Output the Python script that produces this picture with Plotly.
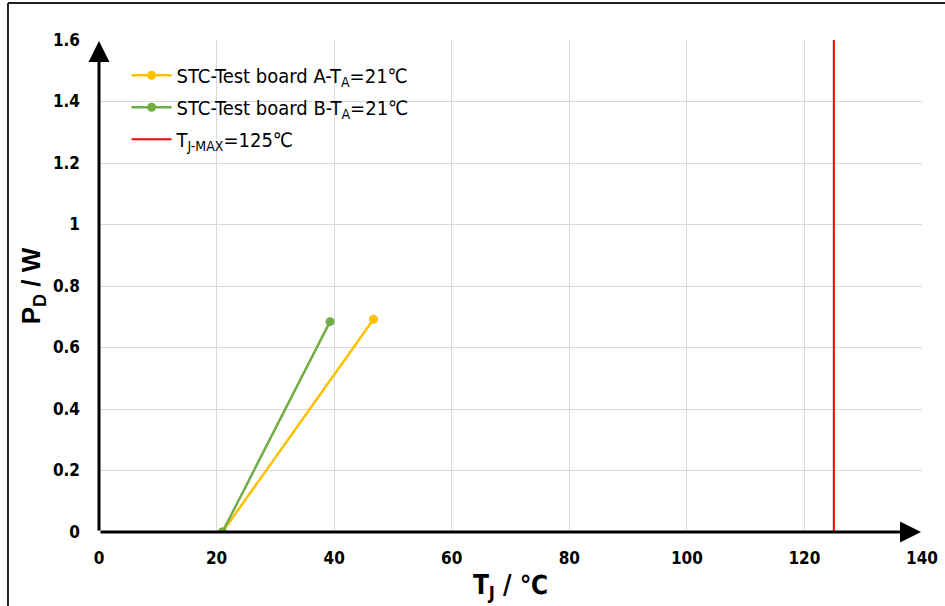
import plotly.graph_objects as go

# Data
board_a_tj = [21, 46.7]
board_a_pd = [0, 0.692]
board_b_tj = [21, 39.3]
board_b_pd = [0, 0.684]
tj_max = 125
x_ticks = [0, 20, 40, 60, 80, 100, 120, 140]
y_ticks = [0, 0.2, 0.4, 0.6, 0.8, 1.0, 1.2, 1.4, 1.6]
y_tick_labels = ["0", "0.2", "0.4", "0.6", "0.8", "1", "1.2", "1.4", "1.6"]

YELLOW = "#FFC000"
GREEN = "#70AD47"
RED = "#FF0000"
FONT = "Liberation Sans Narrow, Arial Narrow, DejaVu Sans Condensed, sans-serif"

fig = go.Figure()
fig.add_trace(go.Scatter(
    x=board_a_tj, y=board_a_pd, mode="lines+markers", legendgroup="a",
    name="STC-Test board A-T<sub>A</sub>=21℃",
    line=dict(color=YELLOW, width=2.5), marker=dict(size=9, color=YELLOW)))
fig.add_trace(go.Scatter(
    x=board_b_tj, y=board_b_pd, mode="lines+markers", legendgroup="b",
    name="STC-Test board B-T<sub>A</sub>=21℃",
    line=dict(color=GREEN, width=2.5), marker=dict(size=9, color=GREEN)))
fig.add_trace(go.Scatter(
    x=[tj_max, tj_max], y=[y_ticks[0], y_ticks[-1]], mode="lines", legendgroup="c",
    name="T<sub>J-MAX</sub>=125℃",
    line=dict(color=RED, width=2)))

# Axis arrows
fig.add_annotation(x=140, y=0, ax=0, ay=0, xref="x", yref="y", axref="x", ayref="y",
                   showarrow=True, arrowhead=2, arrowsize=1.4, arrowwidth=3,
                   arrowcolor="black", text="", standoff=1)
fig.add_annotation(x=0, y=1.6, ax=0, ay=0, xref="x", yref="y", axref="x", ayref="y",
                   showarrow=True, arrowhead=2, arrowsize=1.4, arrowwidth=3,
                   arrowcolor="black", text="", standoff=1)

# Outer frame: left and top edges visible in the reference
fig.add_shape(type="line", xref="paper", yref="paper",
              x0=-0.1106, x1=-0.1106, y0=-0.3, y1=1.075,
              line=dict(color="#222222", width=2), layer="below")
fig.add_shape(type="line", xref="paper", yref="paper",
              x0=-0.1106, x1=1.2, y0=1.075, y1=1.075,
              line=dict(color="#222222", width=2), layer="below")

fig.update_layout(
    width=945, height=606,
    margin=dict(l=99, r=23, t=40, b=74),
    paper_bgcolor="white", plot_bgcolor="white",
    font=dict(family=FONT, color="black"),
    showlegend=True,
    legend=dict(x=0.0335, y=0.968, xanchor="left", yanchor="top",
                bgcolor="rgba(255,255,255,0)", font=dict(size=20, family=FONT),
                tracegroupgap=3, itemwidth=40),
    xaxis=dict(range=[0, 140], tickvals=x_ticks, ticktext=[str(v) for v in x_ticks],
               showgrid=True, gridcolor="#D9D9D9", gridwidth=1, zeroline=False,
               showline=False, ticks="", automargin=False, ticklabelstandoff=14,
               tickfont=dict(size=17, family=FONT, weight="bold"),
               title=dict(text="<b>T<sub>J</sub> / ℃</b>", font=dict(size=26, family=FONT), standoff=8)),
    yaxis=dict(range=[0, 1.6], tickvals=y_ticks, ticktext=y_tick_labels,
               showgrid=True, gridcolor="#D9D9D9", gridwidth=1, zeroline=False,
               showline=False, ticks="", ticklabelstandoff=18, automargin=False,
               tickfont=dict(size=17, family=FONT, weight="bold"),
               title=dict(text="<b>P<sub>D</sub> / W</b>", font=dict(size=26, family="Liberation Sans, Arial, sans-serif"), standoff=4)),
)

fig.write_html("out.html", config={"displayModeBar": False},
               post_script="document.body.style.margin='0';")
